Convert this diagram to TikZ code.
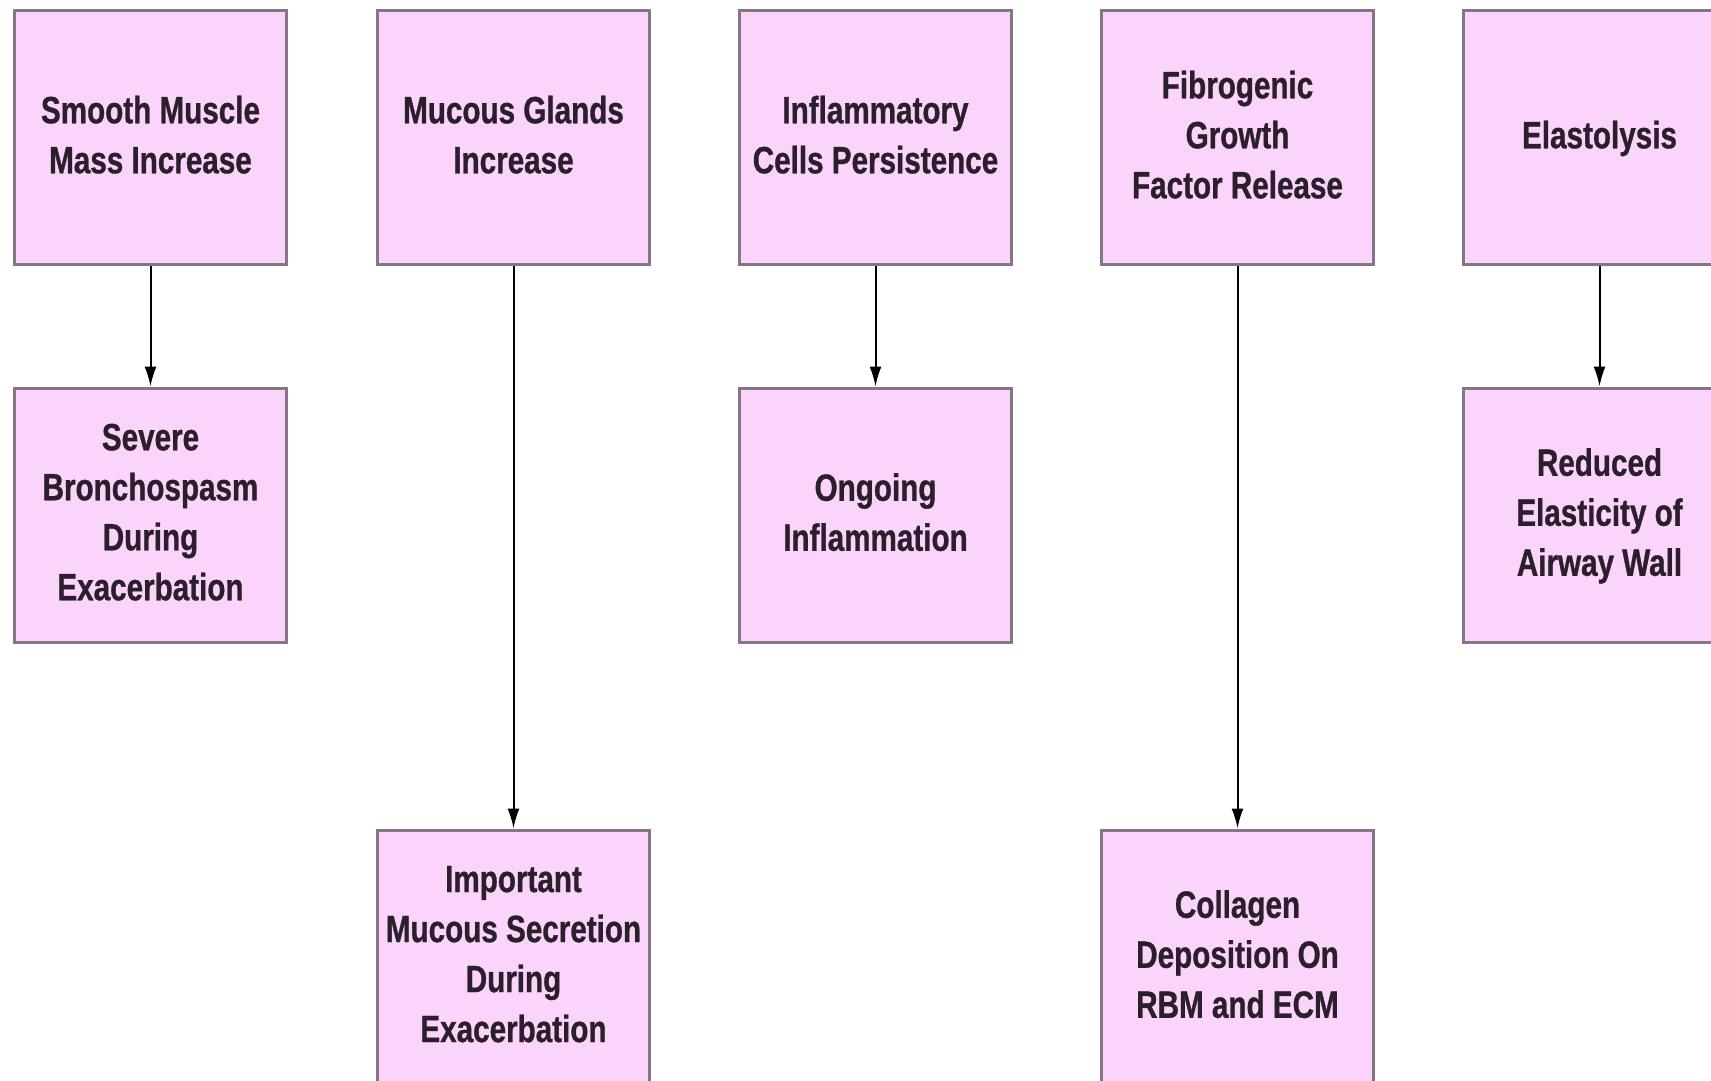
\documentclass[tikz,border=0pt]{standalone}
\usepackage{fontspec}
\newfontfamily\boxfont{Liberation Sans}[FakeStretch=0.78,FakeBold=0.8]
\usetikzlibrary{arrows.meta}
\definecolor{boxfill}{HTML}{FAD4FA}
\definecolor{boxline}{HTML}{857585}
\definecolor{boxtext}{HTML}{2B1F2B}
\tikzset{
  flowbox/.style={draw=boxline, line width=3pt, fill=boxfill, rectangle,
    minimum width=272pt, minimum height=254pt, inner sep=0pt, align=center,
    text=boxtext, font=\boxfont\bfseries\fontsize{38}{50}\selectfont},
  flowarrow/.style={draw=black, line width=2pt, -{Latex[length=20pt,width=12pt]}}
}
\newcommand{\upfix}{\\[-44pt]}
\begin{document}
\begin{tikzpicture}[x=1pt,y=-1pt]
\useasboundingbox (0,0) rectangle (1711,1081);
\clip (0,0) rectangle (1711,1081);
\fill[white] (0,0) rectangle (1711,1081);
% row 1
\node[flowbox] (a1) at (150.5,137.5) {Smooth Muscle\\Mass Increase\upfix};
\node[flowbox] (a2) at (513.5,137.5) {Mucous Glands\\Increase\upfix};
\node[flowbox] (a3) at (875.5,137.5) {Inflammatory\\Cells Persistence\upfix};
\node[flowbox] (a4) at (1237.5,137.5) {Fibrogenic\\Growth\\Factor Release\upfix};
\node[flowbox] (a5) at (1599.5,137.5) {Elastolysis\upfix};
% row 2
\node[flowbox] (b1) at (150.5,515) {Severe\\Bronchospasm\\During\\Exacerbation\upfix};
\node[flowbox] (b3) at (875.5,515) {Ongoing\\Inflammation\upfix};
\node[flowbox] (b5) at (1599.5,515) {Reduced\\Elasticity of\\Airway Wall\upfix};
% row 3
\node[flowbox] (c2) at (513.5,957) {Important\\Mucous Secretion\\During\\Exacerbation\upfix};
\node[flowbox] (c4) at (1237.5,957) {Collagen\\Deposition On\\RBM and ECM\upfix};
% arrows
\draw[flowarrow] (a1) -- (b1);
\draw[flowarrow] (a2) -- (c2);
\draw[flowarrow] (a3) -- (b3);
\draw[flowarrow] (a4) -- (c4);
\draw[flowarrow] (a5) -- (b5);
\end{tikzpicture}
\end{document}
